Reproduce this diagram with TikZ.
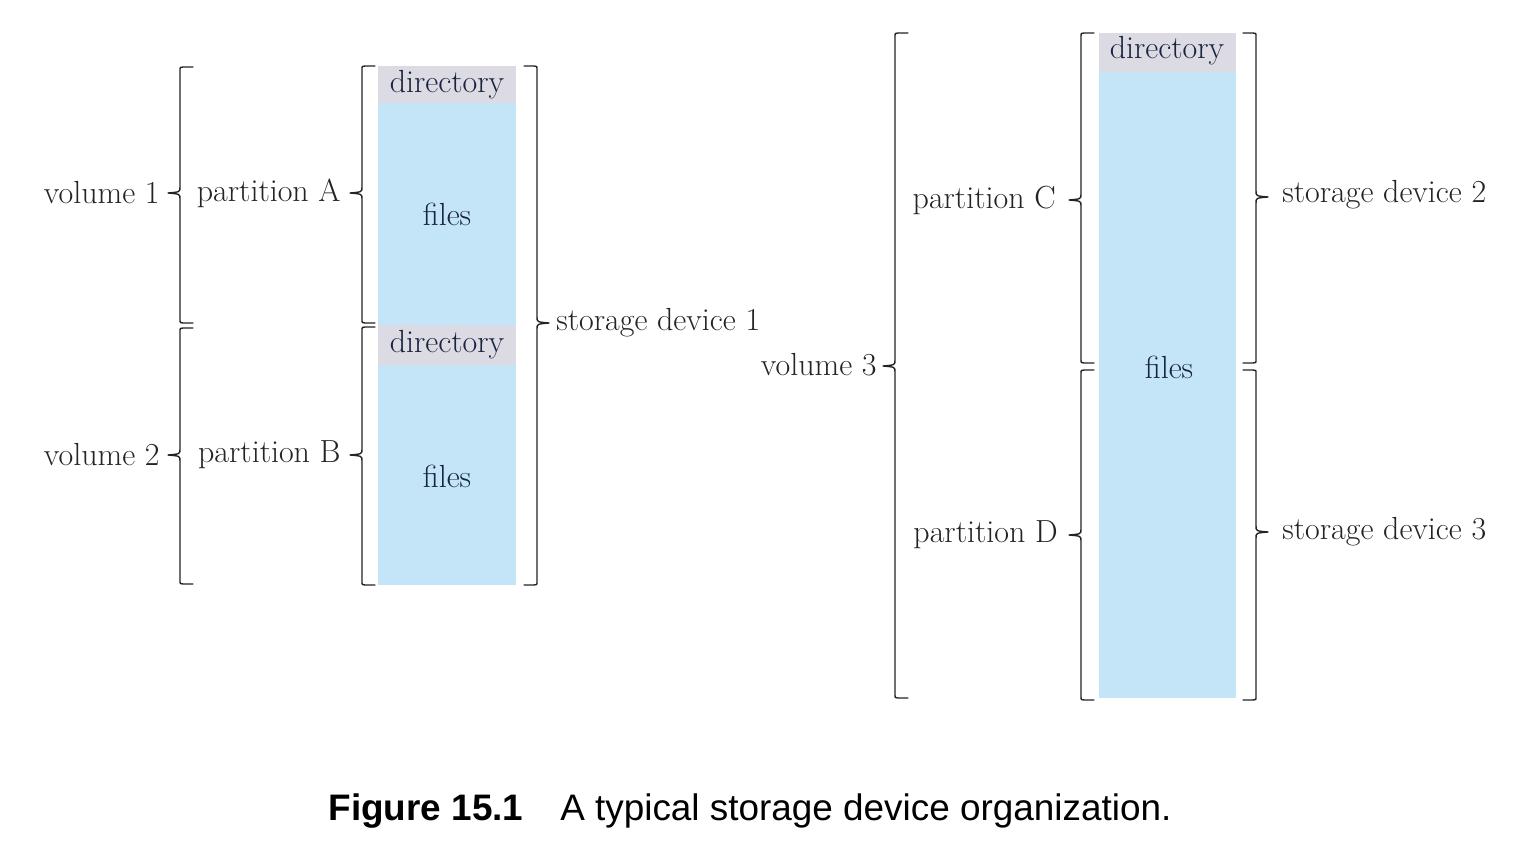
\documentclass[tikz,border=0pt]{standalone}
\usepackage{fontspec}
\newfontfamily\capfont{Liberation Sans}
\definecolor{filecol}{RGB}{196,228,247}
\definecolor{dircol}{RGB}{220,219,227}
\definecolor{inkcol}{RGB}{35,35,40}
\definecolor{navycol}{RGB}{25,36,64}
\tikzset{
  brk/.style={draw=inkcol, line width=0.8pt, line join=round, line cap=round},
  lbl/.style={text=inkcol, font=\fontsize{18.2}{22}\selectfont, inner sep=0pt},
  boxlbl/.style={text=navycol, font=\fontsize{18.2}{22}\selectfont, inner sep=0pt}
}
% brace opening right, point on the left: x, top, mid, bottom
\newcommand{\bropen}[4]{%
  \draw[brk] (#1+13,#2) -- (#1+3,#2) .. controls (#1,#2) .. (#1,#2+4) -- (#1,#3-6)
    .. controls (#1,#3-1) .. (#1-12,#3) .. controls (#1,#3+1) .. (#1,#3+6)
    -- (#1,#4-4) .. controls (#1,#4) .. (#1+3,#4) -- (#1+13,#4);}
% brace opening left, point on the right
\newcommand{\brclose}[4]{%
  \draw[brk] (#1-13,#2) -- (#1-3,#2) .. controls (#1,#2) .. (#1,#2+4) -- (#1,#3-6)
    .. controls (#1,#3-1) .. (#1+12,#3) .. controls (#1,#3+1) .. (#1,#3+6)
    -- (#1,#4-4) .. controls (#1,#4) .. (#1-3,#4) -- (#1-13,#4);}
\begin{document}
\begin{tikzpicture}[x=0.02cm, y=-0.02cm]
  \useasboundingbox (0,0) rectangle (1524,858);
  % storage device 1
  \fill[dircol] (378,66) rectangle (516,103);
  \fill[filecol] (378,103) rectangle (516,325);
  \fill[dircol] (378,325) rectangle (516,365);
  \fill[filecol] (378,365) rectangle (516,585);
  \node[boxlbl] (dirA) at (447,85) {directory};
  \node[boxlbl] (filA) at (447,214) {files};
  \node[boxlbl] (dirB) at (447,345) {directory};
  \node[boxlbl] (filB) at (447,476) {files};
  \bropen{180}{67}{193}{323}
  \bropen{180}{328}{455}{584}
  \bropen{362}{66}{193}{323}
  \bropen{362}{327}{455}{585}
  \brclose{537}{66}{323}{585}
  \node[lbl, anchor=east] (vol1) at (160,193) {volume 1};
  \node[lbl, anchor=east] (vol2) at (160,455) {volume 2};
  \node[lbl, anchor=east] (partA) at (341,193) {partition A};
  \node[lbl, anchor=east] (partB) at (341,455) {partition B};
  \node[lbl, anchor=west] (dev1) at (556,323) {storage device 1};
  % storage devices 2 and 3
  \fill[dircol] (1099,33) rectangle (1236,72);
  \fill[filecol] (1099,72) rectangle (1236,698);
  \node[boxlbl] (dirC) at (1167,51) {directory};
  \node[boxlbl] (filC) at (1169,367) {files};
  \bropen{895}{33}{366}{698}
  \bropen{1081}{33}{200}{363}
  \bropen{1081}{370}{535}{700}
  \brclose{1256}{33}{197}{363}
  \brclose{1256}{370}{532}{700}
  \node[lbl, anchor=east] (vol3) at (877,365) {volume 3};
  \node[lbl, anchor=east] (partC) at (1056,200) {partition C};
  \node[lbl, anchor=east] (partD) at (1058,535) {partition D};
  \node[lbl, anchor=west] (dev2) at (1282,195) {storage device 2};
  \node[lbl, anchor=west] (dev3) at (1282,532) {storage device 3};
  % caption
  \node[text=black, font=\capfont\fontsize{21}{25}\selectfont] (cap) at (750,811)
    {\textbf{Figure 15.1}\hspace{1em}A typical storage device organization.};
\end{tikzpicture}
\end{document}
